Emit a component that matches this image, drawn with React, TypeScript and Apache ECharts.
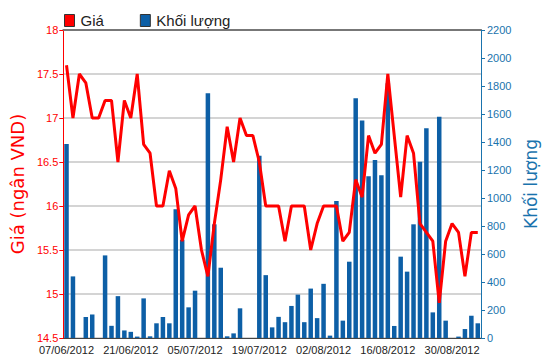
import React, { useEffect, useRef } from "react";
import * as echarts from "echarts";

const dates: string[] = [
  "07/06/2012", "08/06/2012", "11/06/2012", "12/06/2012", "13/06/2012", "14/06/2012", "15/06/2012", "18/06/2012", "19/06/2012", "20/06/2012",
  "21/06/2012", "22/06/2012", "25/06/2012", "26/06/2012", "27/06/2012", "28/06/2012", "29/06/2012", "02/07/2012", "03/07/2012", "04/07/2012",
  "05/07/2012", "06/07/2012", "09/07/2012", "10/07/2012", "11/07/2012", "12/07/2012", "13/07/2012", "16/07/2012", "17/07/2012", "18/07/2012",
  "19/07/2012", "20/07/2012", "23/07/2012", "24/07/2012", "25/07/2012", "26/07/2012", "27/07/2012", "30/07/2012", "31/07/2012", "01/08/2012",
  "02/08/2012", "03/08/2012", "06/08/2012", "07/08/2012", "08/08/2012", "09/08/2012", "10/08/2012", "13/08/2012", "14/08/2012", "15/08/2012",
  "16/08/2012", "17/08/2012", "20/08/2012", "21/08/2012", "22/08/2012", "23/08/2012", "24/08/2012", "27/08/2012", "28/08/2012", "29/08/2012",
  "30/08/2012", "31/08/2012", "04/09/2012", "05/09/2012", "06/09/2012",
];

const prices: number[] = [
  17.6, 17.0, 17.5, 17.4, 17.0, 17.0, 17.2, 17.2, 16.5, 17.2,
  17.0, 17.5, 16.7, 16.6, 16.0, 16.0, 16.4, 16.2, 15.6, 15.9,
  16.0, 15.5, 15.2, 15.8, 16.3, 16.9, 16.5, 17.0, 16.8, 16.8,
  16.5, 16.0, 16.0, 16.0, 15.6, 16.0, 16.0, 16.0, 15.5, 15.8,
  16.0, 16.0, 16.0, 15.6, 15.7, 16.3, 16.1, 16.8, 16.6, 16.7,
  17.5, 16.8, 16.1, 16.8, 16.6, 15.8, 15.7, 15.6, 14.9, 15.6,
  15.8, 15.7, 15.2, 15.7, 15.7,
];

const volumes: number[] = [
  1385, 440, 0, 150, 168, 0, 590, 87, 299, 54,
  44, 10, 283, 12, 105, 150, 105, 919, 702, 219,
  338, 0, 1748, 812, 502, 12, 33, 212, 0, 0,
  1301, 449, 76, 151, 113, 229, 310, 113, 353, 142,
  387, 17, 979, 124, 545, 1712, 1554, 1155, 1271, 1163,
  1820, 86, 581, 474, 812, 1259, 1498, 183, 1581, 124,
  0, 10, 64, 159, 105,
];

const RED = "#ff0000";
const BLUE = "#0d5fa6";
const AXIS_BLUE = "#1a73ad";
const FONT = "Liberation Sans";
const TITLE_FONT = "DejaVu Sans";

export default function App() {
  const ref = useRef<HTMLDivElement>(null);

  useEffect(() => {
    document.body.style.margin = "0";
    if (!ref.current) return;
    const chart = echarts.init(ref.current, undefined, { renderer: "svg" });
    chart.setOption({
      animation: false,
      backgroundColor: "#ffffff",
      textStyle: { fontFamily: FONT },
      legend: {
        data: ["Giá", "Khối lượng"],
        left: 59,
        top: 8,
        icon: "rect",
        itemWidth: 10,
        itemHeight: 12,
        itemGap: 36,
        itemStyle: { borderColor: "#333", borderWidth: 1 },
        textStyle: { fontSize: 15, color: "#222", fontFamily: FONT, padding: [0, 0, 0, 1] },
      },
      grid: { left: 57, right: 69, top: 30, bottom: 26 },
      xAxis: [
        {
          type: "category",
          data: dates,
          boundaryGap: true,
          axisLine: { lineStyle: { color: "#444", width: 1 } },
          axisTick: { alignWithLabel: true, interval: 9, length: 5, lineStyle: { color: "#444" } },
          axisLabel: { interval: 9, color: "#222", fontSize: 11, fontFamily: FONT, margin: 6 },
          splitLine: { show: false },
        },
        {
          type: "category",
          data: dates,
          position: "top",
          axisLine: { lineStyle: { color: "#777", width: 2 } },
          axisTick: { show: false },
          axisLabel: { show: false },
          splitLine: { show: false },
        },
      ],
      yAxis: [
        {
          type: "value",
          min: 14.5,
          max: 18,
          interval: 0.5,
          position: "left",
          name: "Giá (ngân VND)",
          nameLocation: "middle",
          nameRotate: 90,
          nameGap: 34,
          nameTextStyle: { color: RED, fontSize: 18, fontFamily: TITLE_FONT },
          axisLine: { show: true, lineStyle: { color: RED, width: 1 } },
          axisTick: { show: true, length: 4, lineStyle: { color: RED } },
          axisLabel: { color: RED, fontSize: 11, fontFamily: FONT, margin: 5 },
          splitLine: { show: true, lineStyle: { color: "#d4d4d4", width: 2 } },
        },
        {
          type: "value",
          min: 0,
          max: 2200,
          interval: 200,
          position: "right",
          name: "Khối lượng",
          nameLocation: "middle",
          nameRotate: 90,
          nameGap: 38,
          nameTextStyle: { color: AXIS_BLUE, fontSize: 17, fontFamily: TITLE_FONT },
          axisLine: { show: true, lineStyle: { color: AXIS_BLUE, width: 1 } },
          axisTick: { show: true, length: 4, lineStyle: { color: AXIS_BLUE } },
          axisLabel: { color: AXIS_BLUE, fontSize: 11, fontFamily: FONT, margin: 6, formatter: (v: number) => String(v) },
          splitLine: { show: false },
        },
      ],
      series: [
        {
          name: "Khối lượng",
          type: "bar",
          xAxisIndex: 0,
          yAxisIndex: 1,
          data: volumes,
          barWidth: 4.5,
          itemStyle: { color: BLUE },
        },
        {
          name: "Giá",
          type: "line",
          xAxisIndex: 0,
          yAxisIndex: 0,
          data: prices,
          symbol: "none",
          lineStyle: { color: RED, width: 3 },
          itemStyle: { color: RED },
          z: 5,
        },
      ],
    });
    return () => chart.dispose();
  }, []);

  return <div ref={ref} style={{ width: 550, height: 364 }} />;
}
